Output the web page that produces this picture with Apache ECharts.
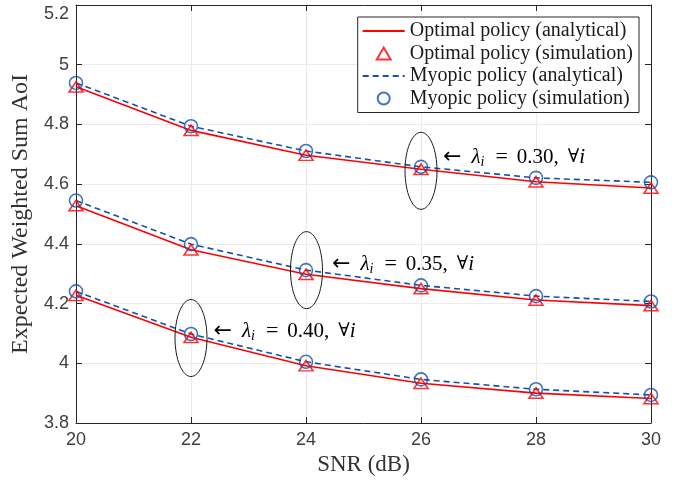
<!DOCTYPE html>
<html>
<head>
<meta charset="utf-8">
<script src="https://cdn.jsdelivr.net/npm/echarts@6/dist/echarts.min.js"></script>
<style>
  html, body { margin: 0; padding: 0; background: #fff; }
  #container { width: 688px; height: 487px; }
</style>
</head>
<body>
<div id="container"></div>
<script>
var snr = [20, 22, 24, 26, 28, 30];
var xTicks = [20, 22, 24, 26, 28, 30];
var yTicks = [3.8, 4, 4.2, 4.4, 4.6, 4.8, 5, 5.2];

var optimal030 = [4.926, 4.780, 4.697, 4.650, 4.608, 4.587];
var myopic030  = [4.939, 4.794, 4.711, 4.658, 4.621, 4.606];
var optimal035 = [4.528, 4.380, 4.298, 4.250, 4.212, 4.193];
var myopic035  = [4.545, 4.399, 4.312, 4.261, 4.225, 4.207];
var optimal040 = [4.228, 4.087, 3.992, 3.933, 3.900, 3.882];
var myopic040  = [4.241, 4.098, 4.005, 3.946, 3.913, 3.894];

var lambdaLabels = ['0.30', '0.35', '0.40'];
var lambdaAt = [26, 24, 22];

var dom = document.getElementById('container');
var myChart = echarts.init(dom, null, { renderer: 'canvas' });

var RED = '#ff0000';
var BLUE = '#1452aa';
var AXIS = '#262626';
var LABEL = '#404040';
var SERIF = '"Liberation Serif", "DejaVu Serif", serif';
var SANS = '"Liberation Sans", Arial, sans-serif';
var TRI = 'path://M6,0L12,10.4L0,10.4Z';

function pairs(ys) {
  return snr.map(function (x, i) { return [x, ys[i]]; });
}

var sets = [
  [optimal030, myopic030],
  [optimal035, myopic035],
  [optimal040, myopic040]
];

var series = [];
sets.forEach(function (s) {
  series.push({
    name: 'Optimal policy (analytical)', type: 'line', data: pairs(s[0]),
    symbol: 'circle', showSymbol: false,
    lineStyle: { color: RED, width: 1.6 }, itemStyle: { color: 'transparent', borderWidth: 0 },
    z: 3, silent: true
  });
  series.push({
    name: 'Optimal policy (simulation)', type: 'scatter', data: pairs(s[0]),
    symbol: TRI, symbolSize: [14, 12], symbolKeepAspect: true,
    itemStyle: { color: 'transparent', borderColor: RED, borderWidth: 1.6 },
    z: 4, silent: true
  });
  series.push({
    name: 'Myopic policy (analytical)', type: 'line', data: pairs(s[1]),
    symbol: 'circle', showSymbol: false,
    lineStyle: { color: BLUE, width: 1.6, type: [6, 4] }, itemStyle: { color: 'transparent', borderWidth: 0 },
    z: 3, silent: true
  });
  series.push({
    name: 'Myopic policy (simulation)', type: 'scatter', data: pairs(s[1]),
    symbol: 'circle', symbolSize: 13,
    itemStyle: { color: 'transparent', borderColor: BLUE, borderWidth: 1.6 },
    z: 4, silent: true
  });
});

var option = {
  animation: false,
  backgroundColor: '#fff',
  grid: { left: 76, right: 37, top: 5, bottom: 64, show: false },
  legend: {
    right: 49, top: 17, orient: 'vertical',
    data: ['Optimal policy (analytical)', 'Optimal policy (simulation)',
           'Myopic policy (analytical)', 'Myopic policy (simulation)'],
    itemWidth: 42, itemHeight: 12, itemGap: 2.5,
    padding: [4, 6, 4, 4],
    borderColor: AXIS, borderWidth: 1, borderRadius: 0, backgroundColor: '#fff',
    textStyle: { fontFamily: SERIF, fontSize: 20, lineHeight: 20, color: '#1a1a1a' },
    selectedMode: false
  },
  xAxis: [{
    type: 'value', min: 20, max: 30, interval: 2,
    name: 'SNR (dB)', nameLocation: 'middle', nameGap: 30,
    nameTextStyle: { fontFamily: SERIF, fontSize: 23, color: '#333' },
    axisLine: { lineStyle: { color: AXIS } },
    axisTick: { inside: true, length: 6, lineStyle: { color: AXIS } },
    axisLabel: { fontFamily: SANS, fontSize: 18, color: LABEL, margin: 8,
      formatter: function (v) { return xTicks.indexOf(v) >= 0 ? String(v) : ''; } },
    splitLine: { lineStyle: { color: '#ebebeb' } }
  }, {
    type: 'value', position: 'top', min: 20, max: 30, interval: 2,
    axisLine: { show: true, lineStyle: { color: AXIS } },
    axisTick: { inside: true, length: 6, lineStyle: { color: AXIS } },
    axisLabel: { show: false }, splitLine: { show: false }
  }],
  yAxis: [{
    type: 'value', min: 3.8, max: 5.2, interval: 0.2,
    name: 'Expected Weighted Sum AoI', nameLocation: 'middle', nameGap: 39,
    nameTextStyle: { fontFamily: SERIF, fontSize: 24, color: '#333' },
    axisLine: { show: true, lineStyle: { color: AXIS } },
    axisTick: { show: true, inside: true, length: 6, lineStyle: { color: AXIS } },
    axisLabel: { fontFamily: SANS, fontSize: 18, color: LABEL, margin: 7,
      verticalAlignMaxLabel: 'top',
      formatter: function (v) {
        var r = Math.round(v * 10) / 10;
        return yTicks.indexOf(r) >= 0 ? String(r) : '';
      } },
    splitLine: { lineStyle: { color: '#ebebeb' } }
  }, {
    type: 'value', position: 'right', min: 3.8, max: 5.2, interval: 0.2,
    axisLine: { show: true, lineStyle: { color: AXIS } },
    axisTick: { show: true, inside: true, length: 6, lineStyle: { color: AXIS } },
    axisLabel: { show: false }, splitLine: { show: false }
  }],
  series: series
};

myChart.setOption(option);

// annotations: ellipse round the marker pair, label to its right
var ellOffset = [[0, 4], [0.5, 0], [0, 4]];
var txtOffset = [[22, -13.5], [25.5, -6], [22.5, -6.5]];
var graphics = [];
var base = { fontFamily: SERIF, fontSize: 21, color: '#1a1a1a', lineHeight: 24 };
function tok(extra) { return Object.assign({}, base, extra); }
lambdaLabels.forEach(function (lab, k) {
  var idx = snr.indexOf(lambdaAt[k]);
  var p = myChart.convertToPixel({ gridIndex: 0 }, [lambdaAt[k], sets[k][1][idx]]);
  var cx = p[0] + ellOffset[k][0];
  var cy = p[1] + ellOffset[k][1];
  graphics.push({
    type: 'ellipse',
    shape: { cx: cx, cy: cy, rx: 16, ry: 38.5 },
    style: { fill: 'none', stroke: '#1a1a1a', lineWidth: 1 },
    z: 10, silent: true
  });
  graphics.push({
    type: 'text',
    x: cx + txtOffset[k][0],
    y: cy + txtOffset[k][1],
    style: {
      text: '{arr|\u2190}{it|\u03bb}{sub|i}{eq|=}{n|' + lab + ',}{all|\u2200}{it|i}',
      verticalAlign: 'middle',
      rich: {
        arr: tok({ fontFamily: '"DejaVu Sans", sans-serif', fontSize: 22, padding: [0, 10, 0, 0] }),
        it: tok({ fontStyle: 'italic' }),
        sub: tok({ fontStyle: 'italic', fontSize: 14, verticalAlign: 'bottom' }),
        eq: tok({ fontSize: 22, padding: [0, 9, 0, 11] }),
        n: tok({}),
        all: tok({ fontFamily: '"DejaVu Serif", serif', fontSize: 19, padding: [0, 0, 0, 9] })
      }
    },
    z: 10, silent: true
  });
});
myChart.setOption({ graphic: graphics });

window.addEventListener('resize', myChart.resize);
</script>
</body>
</html>
